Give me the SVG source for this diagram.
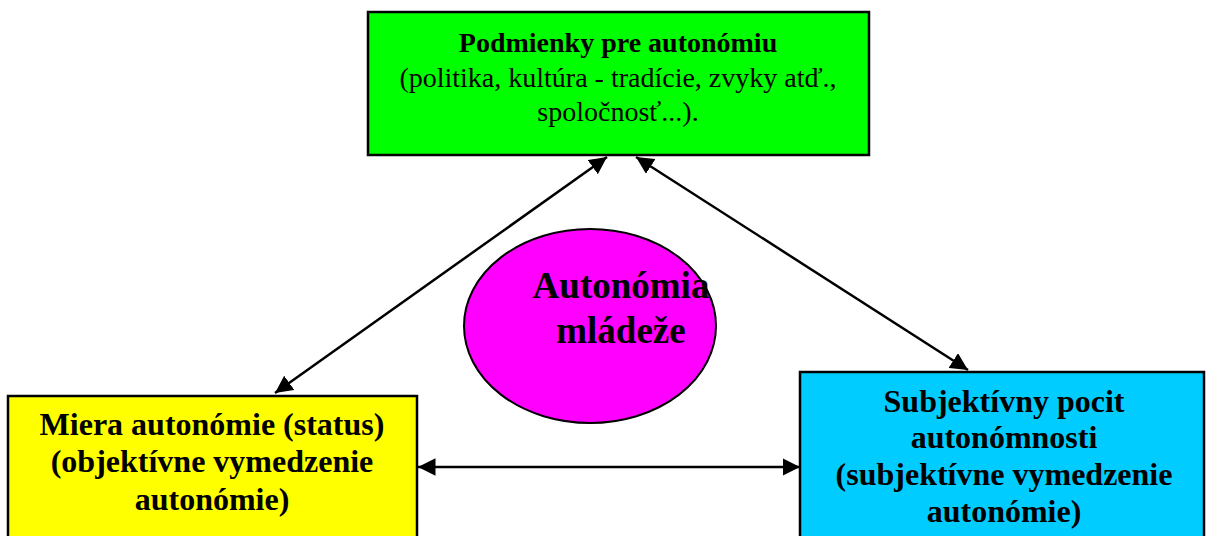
<svg xmlns="http://www.w3.org/2000/svg" width="1206" height="536" viewBox="0 0 1206 536">
<defs>
<style>
.box{stroke:#000;stroke-width:2.5}
.t{font-family:"Liberation Serif","Times New Roman",serif;font-size:28px;text-anchor:middle;fill:#000}
.b{font-weight:bold}
.l{font-size:32px}
.e{font-size:37px}
.c{stroke:#000;stroke-width:2.5;fill:none;marker-start:url(#ah);marker-end:url(#ah)}
</style>
<marker id="ah" viewBox="0 0 10 10" refX="10" refY="5" markerWidth="7" markerHeight="7" markerUnits="strokeWidth" orient="auto-start-reverse">
<path d="M0,0 L10,5 L0,10 z" fill="#000"/>
</marker>
</defs>
<rect width="1206" height="536" fill="#fff"/>
<g id="connectors">
<line class="c" x1="275" y1="393" x2="607" y2="157"/>
<line class="c" x1="636" y1="157" x2="968" y2="370"/>
<line class="c" x1="418" y1="467" x2="800" y2="467"/>
</g>
<g id="podmienky">
<rect class="box" x="368" y="12" width="501" height="143" fill="#00ff00"/>
<text class="t b" x="618" y="52">Podmienky pre autonómiu</text>
<text class="t" x="618" y="87">(politika, kultúra - tradície, zvyky atď.,</text>
<text class="t" x="618" y="121">spoločnosť...).</text>
</g>
<g id="autonomia">
<ellipse cx="590" cy="326" rx="126" ry="97" fill="#ff00ff" stroke="#000" stroke-width="2"/>
<text class="t b e" x="621" y="298">Autonómia</text>
<text class="t b e" x="621" y="343">mládeže</text>
</g>
<g id="miera">
<rect class="box" x="8" y="396" width="409" height="150" fill="#ffff00"/>
<text class="t b l" x="212" y="435">Miera autonómie (status)</text>
<text class="t b l" x="212" y="472">(objektívne vymedzenie</text>
<text class="t b l" x="212" y="510">autonómie)</text>
</g>
<g id="subjektivny">
<rect class="box" x="800" y="372" width="404" height="174" fill="#00ccff"/>
<text class="t b l" x="1004" y="412">Subjektívny pocit</text>
<text class="t b l" x="1004" y="448">autonómnosti</text>
<text class="t b l" x="1004" y="485">(subjektívne vymedzenie</text>
<text class="t b l" x="1004" y="522">autonómie)</text>
</g>
</svg>
